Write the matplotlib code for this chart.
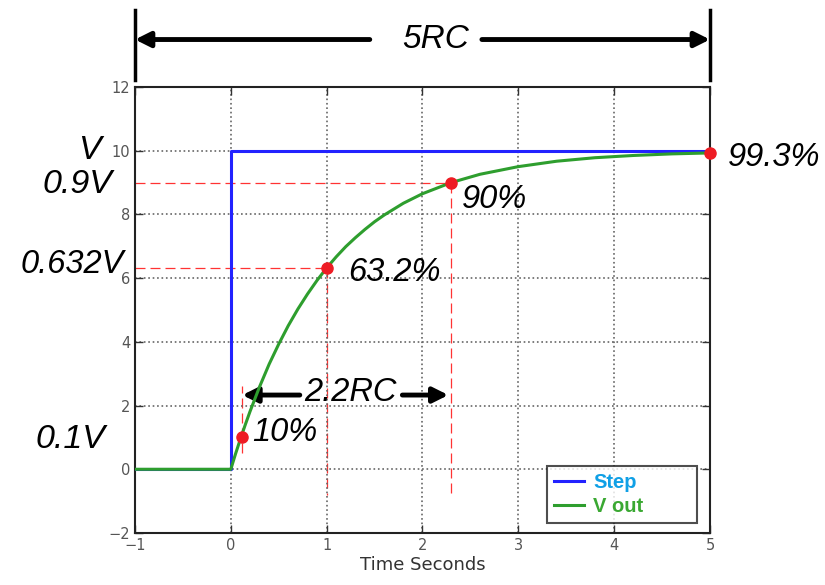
import matplotlib
matplotlib.use('Agg')
import matplotlib.pyplot as plt

# step input
step_t = [-1, 0, 0, 5]
step_v = [0, 0, 10, 10]

# V out
out_t = [-1, 0, 0.05, 0.1, 0.15, 0.2, 0.3, 0.4, 0.5, 0.6, 0.7, 0.8, 0.9, 1.0, 1.1, 1.2,
         1.3, 1.4, 1.5, 1.6, 1.8, 2.0, 2.3, 2.6, 3.0, 3.4, 3.8, 4.2, 4.6, 5.0]
out_v = [0, 0, 0.49, 0.95, 1.39, 1.81, 2.59, 3.3, 3.93, 4.51, 5.03, 5.5, 5.93, 6.32,
         6.67, 6.99, 7.27, 7.53, 7.77, 7.98, 8.35, 8.65, 9.0, 9.26, 9.5, 9.67, 9.78,
         9.85, 9.9, 9.93]

# marked points
pt_t = [0.12, 1.0, 2.3, 5.0]
pt_v = [1.0, 6.32, 9.0, 9.93]
pt_pct = ['10%', '63.2%', '90%', '99.3%']
v_labels = ['0.1V', '0.632V', '0.9V', 'V']
v_levels = [1.0, 6.32, 9.0, 10.0]

xticks = [-1, 0, 1, 2, 3, 4, 5]
yticks = [-2, 0, 2, 4, 6, 8, 10, 12]

big = dict(family='Liberation Sans', style='italic', fontsize=23.5, color='black')
left = dict(big, fontsize=24.5)

fig = plt.figure(figsize=(8.25, 5.85), dpi=100)
ax = fig.add_axes([0.1636, 0.0889, 0.6970, 0.7624])

ax.set_xlim(-1, 5)
ax.set_ylim(-2, 12)
ax.set_xticks(xticks)
ax.set_yticks(yticks)
ax.tick_params(direction='in', length=6, width=1, top=True, right=True,
               labelsize=10.5, colors='#333333')
for lab in ax.get_xticklabels() + ax.get_yticklabels():
    lab.set_color('#555555')
for s in ax.spines.values():
    s.set_linewidth(1.5)
    s.set_color('#222222')
ax.grid(True, linestyle=':', color='#666666', linewidth=1.2)
ax.set_xlabel('Time Seconds', fontsize=13, color='#333333', labelpad=2)

# red guides
red = dict(color='#ff3333', linestyle=(0, (8, 4)), linewidth=0.9, zorder=1.5)
ax.plot([-1, pt_t[2]], [pt_v[2], pt_v[2]], **red)
ax.plot([-1, pt_t[1]], [pt_v[1], pt_v[1]], **red)
ax.plot([pt_t[1], pt_t[1]], [pt_v[1], -0.8], **red)
ax.plot([pt_t[2], pt_t[2]], [pt_v[2], -0.8], **red)
ax.plot([pt_t[0], pt_t[0]], [0.5, 2.6], **red)

ax.plot(step_t, step_v, color='#2222ff', linewidth=2.2, label='Step', zorder=3)
ax.plot(out_t, out_v, color='#2e9e2e', linewidth=2.2, label='V out', zorder=4)
ax.plot(pt_t, pt_v, 'o', color='#ee1c24', markersize=8, zorder=6, clip_on=False)

leg = ax.legend(loc='lower left', mode='expand', frameon=True, fancybox=False,
                handlelength=1.5, handletextpad=0.45,
                prop=dict(family='Liberation Sans', weight='bold', size=14.5),
                borderpad=0.35, labelspacing=0.25,
                bbox_to_anchor=(0.7165, 0.022, 0.261, 0.13), borderaxespad=0)
leg.get_frame().set_edgecolor('#222222')
leg.get_frame().set_linewidth(1.5)
for txt, c in zip(leg.get_texts(), ['#10a0e6', '#3aa832']):
    txt.set_color(c)

# level labels on the left
ax.text(-1.36, v_levels[3], v_labels[3], ha='right', va='center', **left)
ax.text(-1.24, v_levels[2] - 0.05, v_labels[2], ha='right', va='center', **left)
ax.text(-1.11, v_levels[1] + 0.12, v_labels[1], ha='right', va='center',
        **dict(left, fontsize=23.5))
ax.text(-1.31, v_levels[0] - 0.05, v_labels[0], ha='right', va='center', **left)

# percent labels
ax.text(0.22, 1.16, pt_pct[0], ha='left', va='center', **big)
ax.text(1.22, 6.19, pt_pct[1], ha='left', va='center', **big)
ax.text(2.41, 8.46, pt_pct[2], ha='left', va='center', **big)
ax.text(5.19, 9.78, pt_pct[3], ha='left', va='center', **big)

arrow = dict(arrowstyle='-|>,head_length=0.9,head_width=0.45', color='black',
             lw=3.5, shrinkA=0, shrinkB=0)

# 2.2RC arrow
ax.text(1.25, 2.42, '2.2RC', ha='center', va='center', **big)
ax.annotate('', xy=(0.12, 2.33), xytext=(0.72, 2.33), arrowprops=arrow,
            annotation_clip=False)
ax.annotate('', xy=(2.27, 2.33), xytext=(1.79, 2.33), arrowprops=arrow,
            annotation_clip=False)

# 5RC arrow above the plot
ax.text(2.14, 13.5, '5RC', ha='center', va='center', **dict(big, fontsize=24))
ax.annotate('', xy=(-1, 13.49), xytext=(1.45, 13.49), arrowprops=arrow,
            annotation_clip=False)
ax.annotate('', xy=(5, 13.49), xytext=(2.62, 13.49), arrowprops=arrow,
            annotation_clip=False)
ax.plot([-1, -1], [12.23, 14.43], color='black', linewidth=2.5, clip_on=False)
ax.plot([5, 5], [12.23, 14.43], color='black', linewidth=2.5, clip_on=False)

fig.savefig('out.png', dpi=100)
